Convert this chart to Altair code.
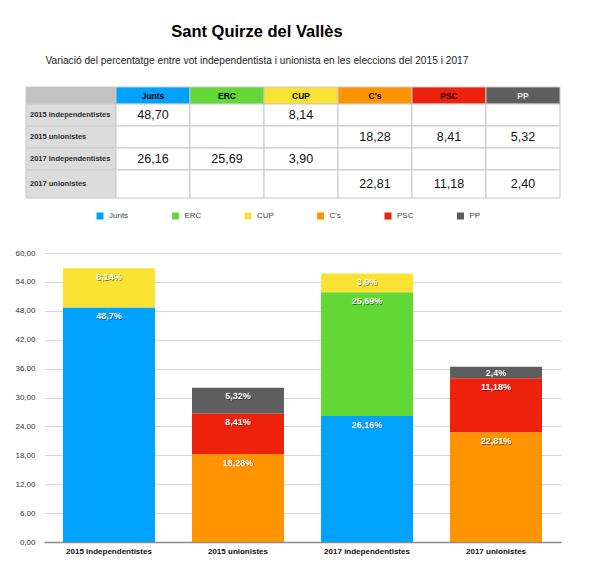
import altair as alt
import pandas as pd

# --- data ---
GROUPS = ["2015 independentistes", "2015 unionistes",
          "2017 independentistes", "2017 unionistes"]
PARTIES = ["Junts", "ERC", "CUP", "C's", "PSC", "PP"]
PARTY_COLORS = ["#00A2FF", "#61D836", "#FAE232", "#FF9300", "#EE220C", "#5E5E5E"]
HEADER_TEXT = ["#000000", "#000000", "#000000", "#000000", "#1a0000", "#e6e6e6"]

JUNTS = [48.70, None, 26.16, None]
ERC = [None, None, 25.69, None]
CUP = [8.14, None, 3.90, None]
CS = [None, 18.28, None, 22.81]
PSC = [None, 8.41, None, 11.18]
PP = [None, 5.32, None, 2.40]
SERIES = [JUNTS, ERC, CUP, CS, PSC, PP]

Y_TICKS = [0, 6, 12, 18, 24, 30, 36, 42, 48, 54, 60]

FONT = "Liberation Sans"

# table layout (column / row sizes, label column wider, last row taller)
COL_W = [90, 74, 74, 74, 74, 74, 74]
ROW_H = [17, 22, 22, 22, 28]


def pct_label(v):
    return f"{v:.2f}".rstrip("0").rstrip(".").replace(".", ",") + "%"


# long table for the bars
bar_rows = []
for pi, (party, vals) in enumerate(zip(PARTIES, SERIES)):
    for gi, v in enumerate(vals):
        if v is not None:
            bar_rows.append({"group": GROUPS[gi], "party": party, "order": pi,
                             "value": v, "label": pct_label(v)})
bars_df = pd.DataFrame(bar_rows)

# cells for the table
cells = []
for r in range(len(ROW_H)):
    for c in range(len(COL_W)):
        x0 = sum(COL_W[:c])
        y0 = sum(ROW_H[:r])
        cell = {"x0": x0, "x1": x0 + COL_W[c], "y0": y0, "y1": y0 + ROW_H[r],
                "xm": x0 + COL_W[c] / 2, "ym": y0 + ROW_H[r] / 2,
                "text": "", "kind": "value", "fill": "#ffffff", "tcolor": "#111111"}
        if r == 0 and c == 0:
            cell["fill"] = "#c2c2c2"
        elif r == 0:
            cell["fill"] = PARTY_COLORS[c - 1]
            cell["text"] = PARTIES[c - 1]
            cell["kind"] = "header"
            cell["tcolor"] = HEADER_TEXT[c - 1]
        elif c == 0:
            cell["fill"] = "#dcdcdc"
            cell["text"] = GROUPS[r - 1]
            cell["kind"] = "rowlabel"
            cell["tcolor"] = "#2b2b2b"
        else:
            v = SERIES[c - 1][r - 1]
            if v is not None:
                cell["text"] = f"{v:.2f}".replace(".", ",")
        cells.append(cell)
cells_df = pd.DataFrame(cells)

PLOT_W = 517
TABLE_W = sum(COL_W)
TABLE_H = sum(ROW_H)

tx = alt.Scale(domain=[0, TABLE_W], range=[-18, TABLE_W - 18])
ty = alt.Scale(domain=[0, TABLE_H], range=[0, TABLE_H])

tbase = alt.Chart(cells_df)
t_rect = tbase.mark_rect(stroke="#c8c8c8", strokeWidth=1).encode(
    x=alt.X("x0:Q", scale=tx, axis=None),
    x2="x1:Q",
    y=alt.Y("y0:Q", scale=ty, axis=None),
    y2="y1:Q",
    fill=alt.Fill("fill:N", scale=None),
)
t_head = tbase.transform_filter(alt.datum.kind == "header").mark_text(
    font=FONT, fontSize=8.5, fontWeight="bold", align="center", baseline="middle"
).encode(
    x=alt.X("xm:Q", scale=tx, axis=None), y=alt.Y("ym:Q", scale=ty, axis=None),
    text="text:N", color=alt.Color("tcolor:N", scale=None),
)
t_rowlab = tbase.transform_filter(alt.datum.kind == "rowlabel").mark_text(
    font=FONT, fontSize=7.5, fontWeight="bold", align="left", baseline="middle", dx=4
).encode(
    x=alt.X("x0:Q", scale=tx, axis=None), y=alt.Y("ym:Q", scale=ty, axis=None),
    text="text:N", color=alt.Color("tcolor:N", scale=None),
)
t_vals = tbase.transform_filter(alt.datum.kind == "value").mark_text(
    font=FONT, fontSize=12.5, align="center", baseline="middle", color="#111111"
).encode(
    x=alt.X("xm:Q", scale=tx, axis=None), y=alt.Y("ym:Q", scale=ty, axis=None),
    text="text:N",
)
table = alt.layer(t_rect, t_head, t_rowlab, t_vals).properties(
    width=PLOT_W, height=TABLE_H
)

# --- stacked bars ---
base = alt.Chart(bars_df).transform_stack(
    stack="value", as_=["y0", "y1"], groupby=["group"],
    sort=[alt.SortField("order", order="ascending")]
).transform_calculate(
    ly="max(datum.y1 - 1.8, (datum.y0 + datum.y1) / 2)"
)

xenc = alt.X("group:N", sort=GROUPS, title=None,
             scale=alt.Scale(paddingInner=0.287, paddingOuter=0.147),
             axis=alt.Axis(labelAngle=0, ticks=False, domainColor="#8a8a8a",
                           domainWidth=1.5, labelFont=FONT, labelFontSize=8,
                           labelFontWeight="bold", labelColor="#111111",
                           labelPadding=5, grid=False))

yscale = alt.Scale(domain=[0, 60], nice=False)
yaxis = alt.Axis(values=Y_TICKS, ticks=False, domain=False, labelOverlap=False,
                 labelExpr="replace(format(datum.value, '.2f'), '.', ',')",
                 labelFont=FONT, labelFontSize=8, labelColor="#333333",
                 labelPadding=9, gridColor="#d8d8d8", gridWidth=1)

bars = base.mark_bar().encode(
    x=xenc,
    y=alt.Y("y0:Q", title=None, scale=yscale, axis=yaxis),
    y2="y1:Q",
    color=alt.Color("party:N", title=None,
                    scale=alt.Scale(domain=PARTIES, range=PARTY_COLORS),
                    legend=alt.Legend(orient="none", legendX=52,
                                      legendY=TABLE_H + 14,
                                      direction="horizontal", columns=6,
                                      columnPadding=42.5, symbolType="square",
                                      symbolSize=49, symbolStrokeWidth=0,
                                      labelFont=FONT, labelFontSize=8,
                                      labelColor="#444444", labelOffset=5)),
)

shadow = base.mark_text(font=FONT, fontSize=9, fontWeight="bold",
                        baseline="middle", color="#000000", opacity=0.45,
                        dx=0.7, dy=0.8).encode(
    x=xenc,
    y=alt.Y("ly:Q", title=None, scale=yscale, axis=yaxis),
    text="label:N")
labels = base.mark_text(font=FONT, fontSize=9, fontWeight="bold",
                        baseline="middle", color="#ffffff").encode(
    x=xenc,
    y=alt.Y("ly:Q", title=None, scale=yscale, axis=yaxis),
    text="label:N")

bar_chart = alt.layer(bars, shadow, labels).properties(width=PLOT_W, height=289)

chart = alt.vconcat(table, bar_chart, spacing=50).properties(
    title=alt.TitleParams(
        text="Sant Quirze del Vallès",
        subtitle="Variació del percentatge entre vot independentista i unionista en les eleccions del 2015 i 2017",
        font=FONT, fontSize=16.5, fontWeight="bold", color="#000000",
        subtitleFont=FONT, subtitleFontSize=10.2, subtitleColor="#222222",
        subtitlePadding=16, anchor="middle", dx=-31, offset=20,
    ),
    padding={"left": 6, "top": 15, "right": 5, "bottom": 5},
).configure_view(stroke=None)

chart.save("out.html", embed_options={"renderer": "svg", "actions": False})
